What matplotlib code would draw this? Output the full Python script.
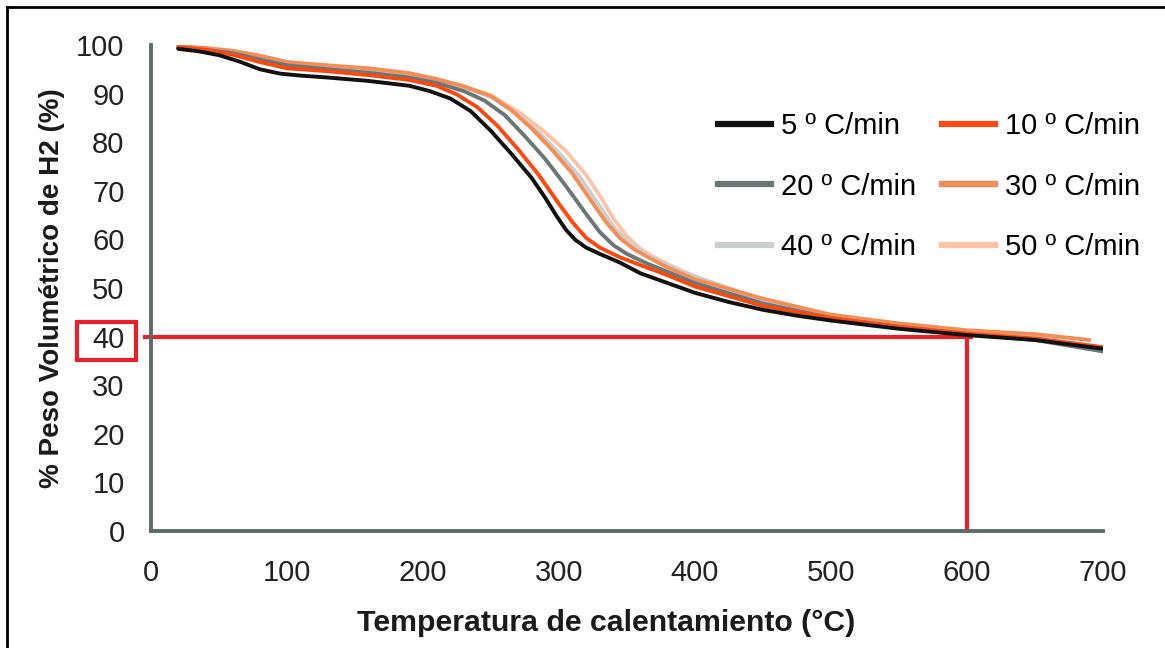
import numpy as np
import matplotlib.pyplot as plt
from matplotlib.lines import Line2D
from matplotlib.patches import Rectangle

plt.rcParams['font.family'] = ['Liberation Sans', 'DejaVu Sans']

# temperatures (°C) and % mass for each heating rate
t_5 = [20, 35, 50, 65, 80, 95, 110, 130, 160, 190, 205, 220, 235, 250, 265, 280, 290, 298, 305, 312, 320, 330, 345, 360, 380, 400, 425, 450, 475, 500, 550, 600, 650, 700]
y_5 = [99.2, 98.7, 97.9, 96.6, 95.0, 94.1, 93.7, 93.3, 92.6, 91.6, 90.5, 89.0, 86.4, 82.3, 77.6, 72.6, 68.5, 64.9, 62.0, 59.9, 58.3, 57.0, 55.2, 53.0, 51.0, 49.0, 47.1, 45.5, 44.3, 43.3, 41.6, 40.3, 39.3, 37.5]

t_10 = [20, 40, 60, 80, 100, 130, 160, 190, 210, 225, 240, 255, 270, 285, 300, 310, 320, 330, 345, 360, 380, 400, 450, 500, 550, 600, 650, 700]
y_10 = [99.6, 99.0, 98.0, 96.5, 95.2, 94.6, 93.8, 92.8, 91.6, 89.8, 87.2, 83.3, 78.5, 73.3, 67.3, 63.5, 60.3, 58.3, 56.3, 54.7, 52.6, 50.3, 46.3, 43.8, 42.0, 40.6, 39.6, 37.8]

t_20 = [20, 40, 60, 80, 100, 130, 160, 190, 210, 230, 245, 260, 275, 290, 305, 320, 330, 340, 350, 365, 380, 400, 450, 500, 550, 600, 650, 703]
y_20 = [99.4, 99.0, 98.3, 97.0, 95.8, 95.0, 94.3, 93.3, 92.2, 90.5, 88.6, 85.6, 81.2, 76.5, 71.0, 65.2, 61.5, 58.8, 57.0, 55.0, 53.3, 51.0, 46.8, 43.8, 42.0, 40.5, 39.3, 36.8]

t_30 = [20, 40, 60, 80, 100, 130, 160, 190, 210, 230, 250, 265, 280, 295, 310, 325, 335, 345, 355, 365, 380, 400, 450, 500, 550, 600, 650, 690]
y_30 = [99.7, 99.4, 98.8, 97.8, 96.5, 95.8, 95.2, 94.2, 93.0, 91.5, 89.5, 86.6, 82.8, 78.4, 73.5, 67.4, 63.4, 60.2, 58.0, 56.4, 54.2, 51.8, 47.8, 44.5, 42.7, 41.3, 40.5, 39.3]

t_40 = [20, 40, 60, 80, 100, 130, 160, 190, 210, 230, 250, 270, 285, 300, 315, 330, 340, 350, 360, 370, 385, 400, 450, 500, 550, 600, 650, 702]
y_40 = [99.5, 99.2, 98.6, 97.5, 96.3, 95.6, 95.0, 94.0, 92.8, 91.3, 89.3, 85.6, 82.0, 77.8, 73.0, 66.8, 62.6, 59.6, 57.6, 56.0, 54.0, 52.3, 47.3, 44.0, 42.2, 40.8, 39.6, 37.3]

t_50 = [20, 40, 60, 80, 100, 130, 160, 190, 210, 230, 250, 270, 290, 305, 320, 330, 340, 350, 360, 370, 385, 400, 450, 500, 550, 600, 650, 700]
y_50 = [99.6, 99.3, 98.7, 97.7, 96.4, 95.7, 95.1, 94.1, 92.9, 91.4, 89.6, 86.3, 82.0, 78.2, 73.2, 69.0, 64.3, 60.6, 58.0, 56.3, 54.2, 52.4, 47.5, 44.2, 42.4, 41.0, 39.9, 37.8]

labels = ["5 º C/min", "10 º C/min", "20 º C/min", "30 º C/min", "40 º C/min", "50 º C/min"]
colors = ["#111111", "#fa4a12", "#6b7777", "#f58d57", "#c9cfcf", "#fbc4a8"]

# marked point
t_mark = 600
y_mark = 40

fig = plt.figure(figsize=(11.65, 6.48), dpi=100)
ax = fig.add_axes([0.1296, 0.1806, 0.8172, 0.75])

series = [(t_5, y_5), (t_10, y_10), (t_20, y_20), (t_30, y_30), (t_40, y_40), (t_50, y_50)]
for i in reversed(range(len(series))):
    t, y = series[i]
    ax.plot(t, y, color=colors[i], lw=2.8, solid_capstyle='round',
            solid_joinstyle='round', zorder=3 + (6 - i))

# legend filled row by row: 5,10 / 20,30 / 40,50
order = [0, 2, 4, 1, 3, 5]
handles = [Line2D([], [], color=colors[i], lw=4.5) for i in order]
leg_labels = [labels[i] for i in order]

# red guide lines
ax.plot([-4.5, t_mark + 3], [y_mark, y_mark], color="#e8202a", lw=3, clip_on=False, zorder=2)
ax.plot([t_mark, t_mark], [0, y_mark], color="#e8202a", lw=3, clip_on=False, zorder=2)
ax.add_patch(Rectangle((-54.5, 35.2), 43.5, 7.8, fill=False, edgecolor="#e8202a",
                       lw=3, clip_on=False))

ax.set_xlim(0, 700)
ax.set_ylim(0, 100)
ax.set_xticks(np.arange(0, 701, 100))
ax.set_yticks(np.arange(0, 101, 10))
ax.tick_params(length=0, labelsize=21, colors="#222222")
ax.tick_params(axis='x', pad=20)
ax.tick_params(axis='y', pad=19)
for s in ['top', 'right']:
    ax.spines[s].set_visible(False)
for s in ['left', 'bottom']:
    ax.spines[s].set_color("#5f6b6b")
    ax.spines[s].set_linewidth(2.8)

ax.set_xlabel("Temperatura de calentamiento (°C)", fontsize=21.8, fontweight='bold',
              color="#1a1a1a", labelpad=16, x=0.478)
ax.set_ylabel("% Peso Volumétrico de H2 (%)", fontsize=20, fontweight='bold',
              color="#1a1a1a", labelpad=8)

ax.legend(handles, leg_labels, ncol=2, loc='upper left', bbox_to_anchor=(0.5956, 0.862),
          frameon=False, fontsize=21, handlelength=1.8, columnspacing=0.9,
          labelspacing=1.12, handletextpad=0.35, borderpad=0, borderaxespad=0)

# outer frame (top and left edges only)
fig.add_artist(Line2D([0.006, 1.0], [0.989, 0.989], color="black", lw=2, transform=fig.transFigure))
fig.add_artist(Line2D([0.006, 0.006], [0.0, 0.989], color="black", lw=2, transform=fig.transFigure))

fig.savefig("out.png", dpi=100)
